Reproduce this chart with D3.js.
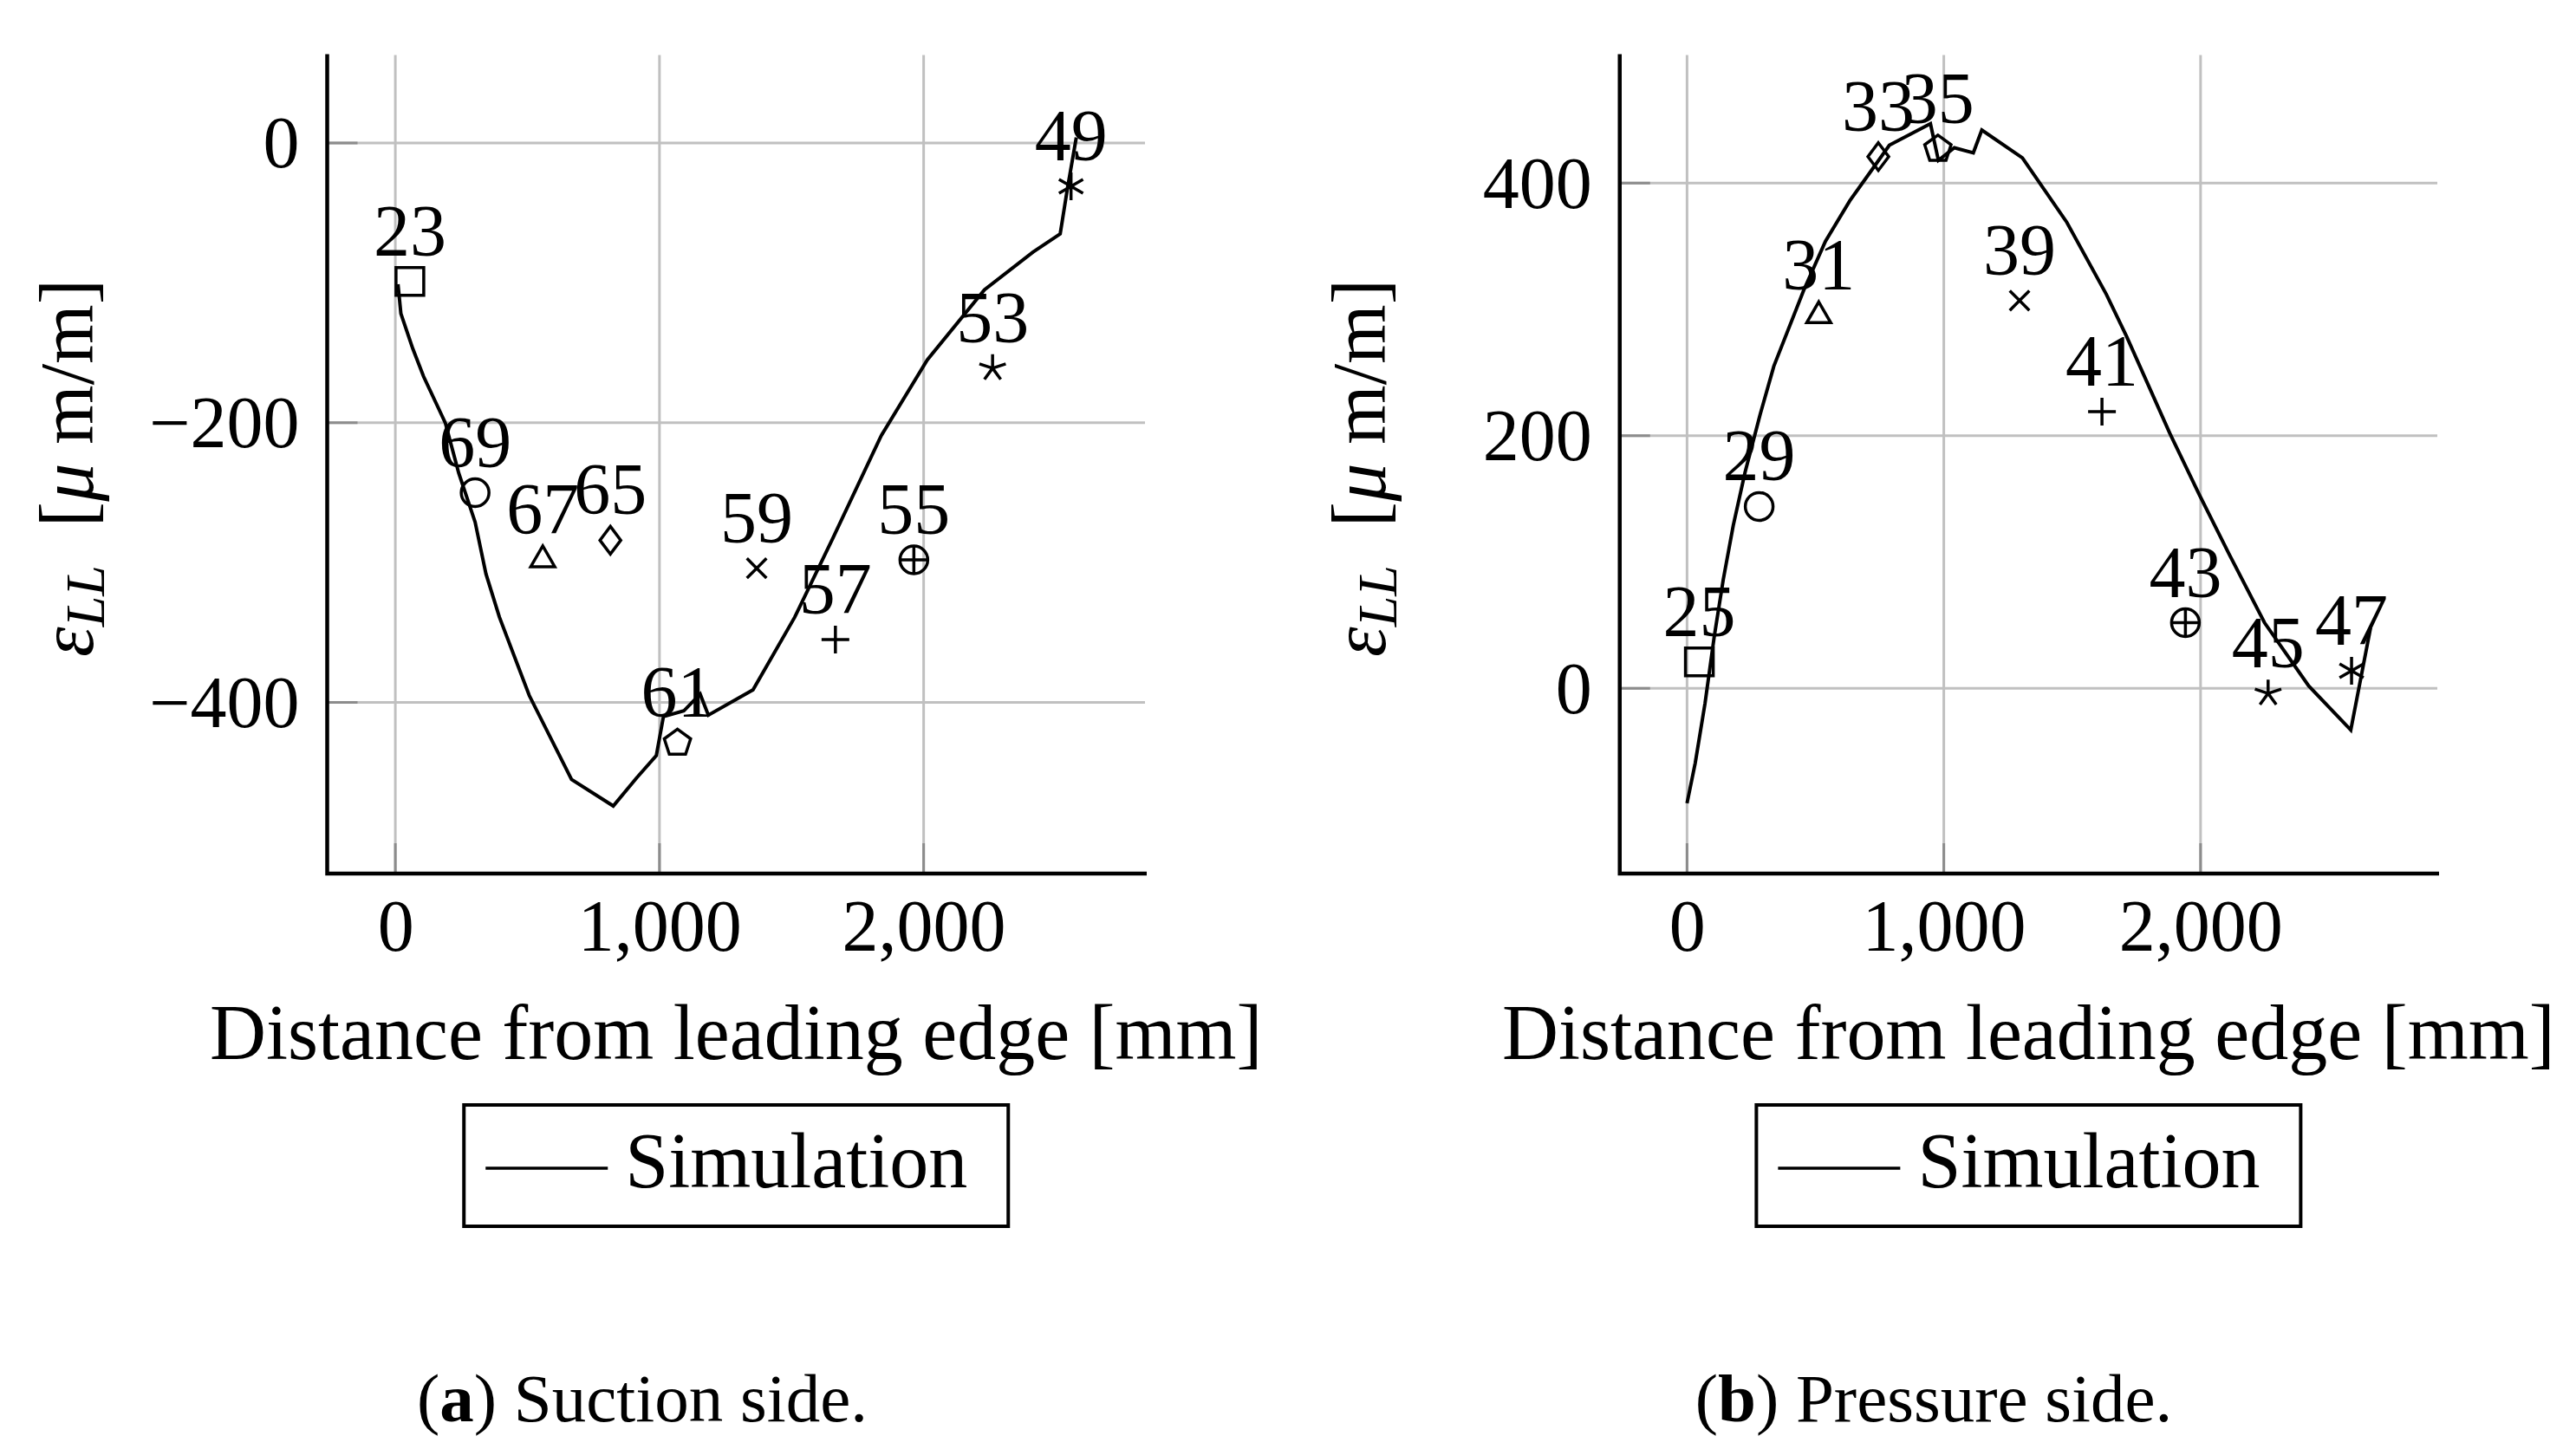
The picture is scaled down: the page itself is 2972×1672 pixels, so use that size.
<!DOCTYPE html>
<meta charset="utf-8">
<html>
<head>
<style>
  body { margin: 0; background: #fff; }
  text { font-family: "Liberation Serif", "DejaVu Serif", serif; fill: #000; }
</style>
</head>
<body>
<div id="chart"></div>
<script src="https://d3js.org/d3.v7.min.js"></script>
<script>
  // tick values
  var xTicks = [0, 1000, 2000];
  var suctionYTicks = [-400, -200, 0];
  var pressureYTicks = [0, 200, 400];

  // simulation curve, suction side
  var suctionSimX = [10, 21, 66, 107, 189, 240, 302, 343, 394, 507, 667, 825, 913, 988, 1015, 1092, 1154, 1185, 1354, 1512, 1655, 1840, 2014, 2230, 2414, 2517, 2544, 2578];
  var suctionSimY = [-101, -122, -147, -167, -200, -236, -271, -308, -339, -395, -455, -474, -454, -438, -410, -406, -394, -409, -391, -339, -283, -209, -155, -105, -78, -65, -33, 4];

  // strain gauges, suction side
  var suctionGauges = ["23", "69", "67", "65", "61", "59", "57", "55", "53", "49"];
  var suctionGaugeX = [55, 302, 558, 814, 1068, 1368, 1666, 1963, 2261, 2558];
  var suctionGaugeY = [-99, -250, -298, -284, -429, -304, -355, -298, -161, -31];

  // simulation curve, pressure side
  var pressureSimX = [0, 32, 70, 106, 141, 180, 226, 285, 338, 454, 539, 634, 718, 788, 948, 979, 1041, 1115, 1148, 1306, 1479, 1633, 1711, 1880, 1996, 2112, 2249, 2421, 2585, 2662];
  var pressureSimY = [-91, -59, -12, 41, 86, 129, 171, 217, 255, 315, 354, 386, 410, 430, 447, 418, 428, 424, 442, 420, 369, 312, 279, 202, 153, 106, 52, 2, -33, 48];

  // strain gauges, pressure side
  var pressureGauges = ["25", "29", "31", "33", "35", "39", "41", "43", "45", "47"];
  var pressureGaugeX = [48, 281, 513, 745, 977, 1295, 1616, 1941, 2263, 2588];
  var pressureGaugeY = [21, 144, 295, 421, 427, 307, 219, 52, -4, 14];

  var markShapes = ["square", "circle", "triangle", "diamond", "pentagon", "cross", "plus", "oplus", "star", "asterisk"];

  var svg = d3.select("#chart")
    .append("svg")
      .attr("width", 2972)
      .attr("height", 1672);

  var R = 16;

  function polygon(cx, cy, n, r, sx) {
    var pts = [];
    for (var k = 0; k < n; k++) {
      var a = -Math.PI / 2 + k * 2 * Math.PI / n;
      pts.push([cx + (sx || 1) * r * Math.cos(a), cy + r * Math.sin(a)]);
    }
    return "M" + pts.map(function(p) { return p[0] + "," + p[1]; }).join("L") + "Z";
  }

  function spokes(cx, cy, angles, r) {
    return angles.map(function(deg) {
      var a = deg * Math.PI / 180;
      return "M" + cx + "," + cy + "L" + (cx + r * Math.cos(a)) + "," + (cy - r * Math.sin(a));
    }).join("");
  }

  function drawMark(g, shape, cx, cy) {
    var p = g.append("path")
      .attr("fill", "none")
      .attr("stroke", "#000")
      .attr("stroke-width", 3.5);
    if (shape == "square") p.attr("d", "M" + (cx - R) + "," + (cy - R) + "h" + 2 * R + "v" + 2 * R + "h" + (-2 * R) + "Z");
    else if (shape == "circle") p.attr("d", d3.arc()({innerRadius: 0, outerRadius: R, startAngle: 0, endAngle: 2 * Math.PI})).attr("transform", "translate(" + cx + "," + cy + ")");
    else if (shape == "triangle") p.attr("d", polygon(cx, cy, 3, R));
    else if (shape == "diamond") p.attr("d", polygon(cx, cy, 4, R, 0.75));
    else if (shape == "pentagon") p.attr("d", polygon(cx, cy, 5, R));
    else if (shape == "cross") p.attr("d", spokes(cx, cy, [45, 135, 225, 315], R));
    else if (shape == "plus") p.attr("d", spokes(cx, cy, [0, 90, 180, 270], R));
    else if (shape == "oplus") {
      p.attr("d", spokes(cx, cy, [0, 90, 180, 270], R));
      g.append("circle").attr("cx", cx).attr("cy", cy).attr("r", R)
        .attr("fill", "none").attr("stroke", "#000").attr("stroke-width", 3.5);
    }
    else if (shape == "star") p.attr("d", spokes(cx, cy, [90, 162, 234, 306, 18], R));
    else if (shape == "asterisk") p.attr("d", spokes(cx, cy, [90, 210, 330, 270, 30, 150], R));
  }

  function drawPanel(cfg) {
    var g = svg.append("g");
    var x = d3.scaleLinear().domain(cfg.xDomain).range([cfg.left, cfg.right]);
    var y = d3.scaleLinear().domain(cfg.yDomain).range([cfg.bottom, cfg.top]);

    // grid
    g.selectAll(".vgrid").data(xTicks).enter().append("line")
      .attr("x1", function(d) { return x(d); }).attr("x2", function(d) { return x(d); })
      .attr("y1", cfg.top).attr("y2", cfg.bottom)
      .attr("stroke", "#c0c0c0").attr("stroke-width", 3);
    g.selectAll(".hgrid").data(cfg.yTicks).enter().append("line")
      .attr("x1", cfg.left).attr("x2", cfg.right)
      .attr("y1", function(d) { return y(d); }).attr("y2", function(d) { return y(d); })
      .attr("stroke", "#c0c0c0").attr("stroke-width", 3);

    // inner tick marks
    g.selectAll(".xtick").data(xTicks).enter().append("line")
      .attr("x1", function(d) { return x(d); }).attr("x2", function(d) { return x(d); })
      .attr("y1", cfg.bottom).attr("y2", cfg.bottom - 35)
      .attr("stroke", "#8c8c8c").attr("stroke-width", 3);
    g.selectAll(".ytick").data(cfg.yTicks).enter().append("line")
      .attr("x1", cfg.left).attr("x2", cfg.left + 35)
      .attr("y1", function(d) { return y(d); }).attr("y2", function(d) { return y(d); })
      .attr("stroke", "#8c8c8c").attr("stroke-width", 3);

    // tick labels
    var xa = g.append("g")
      .attr("transform", "translate(0," + cfg.bottom + ")")
      .call(d3.axisBottom(x).tickValues(xTicks).tickSize(0).tickPadding(29).tickFormat(d3.format(",")));
    var ya = g.append("g")
      .attr("transform", "translate(" + cfg.left + ",0)")
      .call(d3.axisLeft(y).tickValues(cfg.yTicks).tickSize(0).tickPadding(32).tickFormat(d3.format(",")));
    [xa, ya].forEach(function(a) {
      a.select(".domain").remove();
      a.attr("font-family", null).attr("font-size", null);
      a.selectAll("text").style("font-size", "84px");
    });
    ya.selectAll("text").attr("dy", "0.33em");

    // axis lines
    g.append("path")
      .attr("d", "M" + cfg.left + "," + (cfg.top - 1) + "V" + cfg.bottom + "H" + (cfg.right + 2))
      .attr("fill", "none").attr("stroke", "#000").attr("stroke-width", 4.5);

    // simulation line
    var pts = cfg.simX.map(function(d, i) { return [d, cfg.simY[i]]; });
    g.append("path")
      .datum(pts)
      .attr("fill", "none")
      .attr("stroke", "#000")
      .attr("stroke-width", 4)
      .attr("d", d3.line()
        .x(function(d) { return x(d[0]); })
        .y(function(d) { return y(d[1]); }));

    // gauges
    cfg.gauges.forEach(function(name, i) {
      drawMark(g, markShapes[i], x(cfg.gaugeX[i]), y(cfg.gaugeY[i]));
    });
    cfg.gauges.forEach(function(name, i) {
      g.append("text")
        .attr("x", x(cfg.gaugeX[i])).attr("y", y(cfg.gaugeY[i]) - 30)
        .attr("text-anchor", "middle")
        .style("font-size", "84px")
        .text(name);
    });

    var mid = (cfg.left + cfg.right) / 2;

    // x title
    g.append("text")
      .attr("x", mid).attr("y", 1222)
      .attr("text-anchor", "middle")
      .style("font-size", "90px")
      .text("Distance from leading edge [mm]");

    // y title
    var yt = g.append("text")
      .attr("transform", "translate(" + cfg.yLabelX + ",540) rotate(-90)")
      .attr("text-anchor", "middle")
      .style("font-size", "88px");
    yt.append("tspan").style("font-style", "italic").text("\u03b5");
    yt.append("tspan").style("font-style", "italic").style("font-size", "64px").attr("dy", 13).text("LL");
    yt.append("tspan").attr("dy", -13).text("\u2002[");
    yt.append("tspan").style("font-style", "italic").text("\u03bc");
    yt.append("tspan").text(" m/m]");

    // legend
    g.append("rect")
      .attr("x", mid - 314).attr("y", 1275)
      .attr("width", 628).attr("height", 140)
      .attr("fill", "#fff").attr("stroke", "#000").attr("stroke-width", 4);
    g.append("line")
      .attr("x1", mid - 289).attr("x2", mid - 148)
      .attr("y1", 1348).attr("y2", 1348)
      .attr("stroke", "#000").attr("stroke-width", 3.5);
    g.append("text")
      .attr("x", mid - 128).attr("y", 1370)
      .style("font-size", "90px")
      .text("Simulation");

    // caption
    var cap = g.append("text")
      .attr("x", cfg.captionX).attr("y", 1640)
      .attr("text-anchor", "middle")
      .style("font-size", "79px");
    cap.append("tspan").text("(");
    cap.append("tspan").style("font-weight", "bold").text(cfg.letter);
    cap.append("tspan").text(") " + cfg.caption);
  }

  drawPanel({
    left: 377.5, right: 1321, top: 63.5, bottom: 1008,
    xDomain: [-258, 2838], yDomain: [-522.3, 62.9],
    yTicks: suctionYTicks,
    simX: suctionSimX, simY: suctionSimY,
    gauges: suctionGauges, gaugeX: suctionGaugeX, gaugeY: suctionGaugeY,
    yLabelX: 107, captionX: 741, letter: "a", caption: "Suction side."
  });

  drawPanel({
    left: 1868.75, right: 2812, top: 63.5, bottom: 1008,
    xDomain: [-262, 2922], yDomain: [-146.6, 501.4],
    yTicks: pressureYTicks,
    simX: pressureSimX, simY: pressureSimY,
    gauges: pressureGauges, gaugeX: pressureGaugeX, gaugeY: pressureGaugeY,
    yLabelX: 1598, captionX: 2231, letter: "b", caption: "Pressure side."
  });
</script>
</body>
</html>
